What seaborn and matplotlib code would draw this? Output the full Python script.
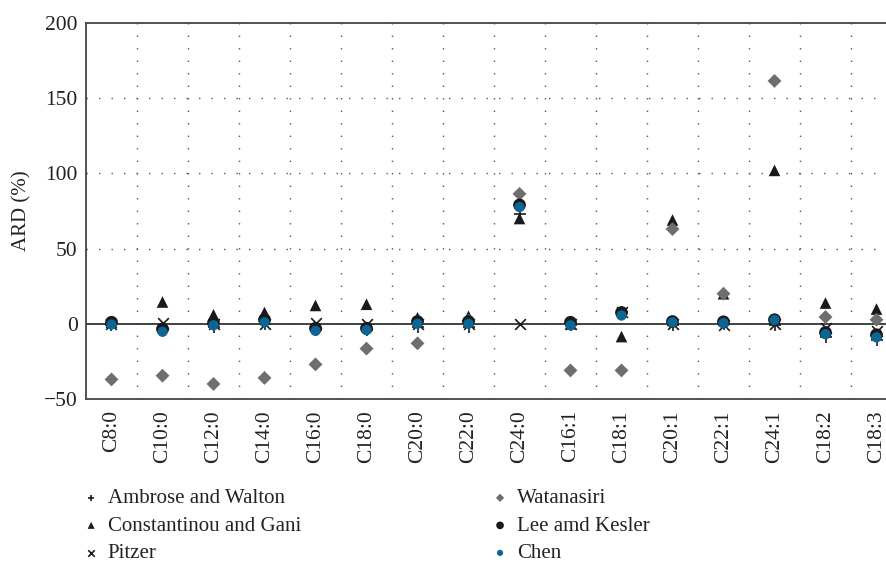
import matplotlib
matplotlib.use("Agg")
import matplotlib.pyplot as plt
import seaborn as sns
import pandas as pd

acids = ["C8:0", "C10:0", "C12:0", "C14:0", "C16:0", "C18:0", "C20:0", "C22:0",
         "C24:0", "C16:1", "C18:1", "C20:1", "C22:1", "C24:1", "C18:2", "C18:3"]

ambrose_walton = [-1, -4, -2, 0, -4, -4, -2, -2, 73, -1, 8, -1, 0, -1, -9, -11]
constantinou_gani = [1, 14.5, 6, 7.5, 12.2, 13, 4, 5, 70, 0, -8.5, 69, 20, 102, 13.8, 9.8]
pitzer = [0, 0.5, 0, 0, 0.5, 0, 0, 0, 0, 0, 8, 0, -1, 0, -3, -5]
watanasiri = [-37, -34.5, -40, -36, -27, -16.5, -13, 2, 86.4, -31, -31, 63, 20, 161.5, 4.5, 2.7]
lee_kesler = [1, -3.5, 0.5, 2.7, -3, -3, 1.5, 1.5, 79, 1, 7.5, 1.5, 1.3, 2.7, -5.8, -7.3]
chen = [-0.5, -5.3, -1, 1, -4.7, -4.2, 0, 0, 77.6, -1, 5.5, 1, 0.5, 2.5, -6.9, -9]

series = [
    ("Ambrose and Walton", ambrose_walton, "+", "#1a1a1a", 70, 1.2),
    ("Constantinou and Gani", constantinou_gani, "^", "#1a1a1a", 70, 0),
    ("Pitzer", pitzer, "x", "#1a1a1a", 60, 1.2),
    ("Watanasiri", watanasiri, "D", "#6e6e6e", 50, 0),
    ("Lee amd Kesler", lee_kesler, "o", "#1a1a1a", 85, 0),
    ("Chen", chen, "o", "#0b6696", 55, 0),
]

sns.set_style("white")
plt.rcParams["font.family"] = ["Liberation Serif", "DejaVu Serif"]

fig = plt.figure(figsize=(8.87, 5.63), dpi=100)
ax = fig.add_axes([86 / 887, 1 - 399 / 563, 816 / 887, 376 / 563])

for name, vals, marker, color, size, lw in series:
    df = pd.DataFrame({"acid": acids, "ARD": vals})
    sns.scatterplot(data=df, x="acid", y="ARD", marker=marker, color=color,
                    s=size, linewidth=lw, edgecolor=color if lw else "none",
                    label=name, ax=ax, zorder=3)

ax.set_xlim(-0.5, len(acids) - 0.5)
ax.set_ylim(-50, 200)
ax.set_yticks([-50, 0, 50, 100, 150, 200])
ax.set_yticklabels(["\u221250", "0", "50", "100", "150", "200"])
ax.set_xticks(range(len(acids)))
ax.set_xticklabels(acids, rotation=90)
ax.tick_params(axis="both", length=0, labelsize=15.5, colors="#222222")
ax.tick_params(axis="x", pad=8)
ax.tick_params(axis="y", pad=6)
ax.set_xlabel("")
ax.set_ylabel("ARD (%)", fontsize=15, color="#222222", labelpad=9)

# dotted grid: horizontal at major ticks, vertical between categories
for yv in [50, 100, 150]:
    ax.axhline(yv, color="#555555", linestyle=(0, (1, 8)), linewidth=1.0, zorder=1)
for k in range(len(acids) - 1):
    ax.axvline(k + 0.5, color="#555555", linestyle=(0, (1, 8)), linewidth=1.0, zorder=1)
ax.axhline(0, color="#333333", linewidth=1.3, zorder=2)

for side in ["left", "top", "bottom"]:
    ax.spines[side].set_color("#444444")
    ax.spines[side].set_linewidth(1.3)
ax.spines["right"].set_visible(False)

handles, labels = ax.get_legend_handles_labels()
ax.legend_.remove()
fig.legend(handles, labels, ncol=2, loc="upper left", bbox_to_anchor=(62 / 887, 1 - 470 / 563),
           frameon=False, fontsize=15, markerscale=0.6, handletextpad=0.3,
           columnspacing=9.05, labelspacing=0.38, handlelength=1.0, labelcolor="#222222")

fig.savefig("out.png", dpi=100)
